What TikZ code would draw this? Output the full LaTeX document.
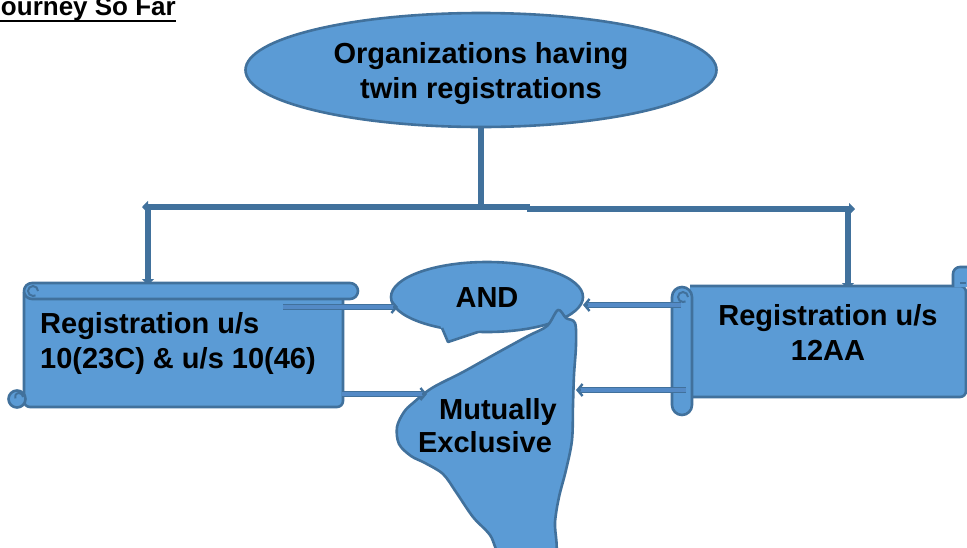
\documentclass[tikz,border=0pt]{standalone}
\usepackage{fontspec}
\setmainfont{Liberation Sans}
\usetikzlibrary{shapes.geometric,arrows.meta,calc}
\definecolor{fc}{RGB}{91,155,213}
\definecolor{dk}{RGB}{65,113,156}
\definecolor{midc}{RGB}{84,138,198}
\newcommand\blockarr[2]{%
  \draw[shaft] (#1) -- ($(#2)!3pt!(#1)$);
  \draw[barb] ($(#2)!5pt!(#1)$) -- (#2);}
\begin{document}
\begin{tikzpicture}[x=1pt,y=-1pt,
  shp/.style={fill=fc,draw=dk,line width=2.6pt,line join=round},
  lbl/.style={font=\fontsize{29}{35}\selectfont\bfseries,text=black,inner sep=0pt},
  conn/.style={draw=dk,line width=5.5pt},
  tipA/.style={-{Triangle[length=6pt,width=12pt]}},
  shaft/.style={draw=dk,line width=1.6pt,double=midc,double distance=3.2pt},
  barb/.style={draw=dk,line width=2.4pt,-{Straight Barb[length=5pt,width=12pt]}},
  curl/.style={draw=dk,line width=2pt}
]
\useasboundingbox (0,0) rectangle (967,547);
\fill[white] (0,0) rectangle (967,547);

% title
\node[anchor=base east,font=\fontsize{26}{30}\selectfont\bfseries,inner sep=0pt] (title) at (176,15) {Journey So Far};
\draw[line width=2pt] ([yshift=-6pt]title.base west) -- ([yshift=-6pt]title.base east);

% top ellipse
\node[shp,ellipse,minimum width=471pt,minimum height=114pt,inner sep=0pt] (top) at (481,70) {};
\node[lbl,anchor=base,align=center] (toptxt) at (481,98) {Organizations having\\twin registrations};

% connectors from top
\coordinate (split) at (481,210);
\coordinate (lbar) at (530,207);
\coordinate (lend) at (142,207);
\coordinate (rbar) at (527,209);
\coordinate (rend) at (855,209);
\coordinate (lcor) at (148,207);
\coordinate (ltop) at (148,285);
\coordinate (rcor) at (848,209);
\coordinate (rtop) at (848,289);
\draw[conn,tipA] (top.south) -- (split);
\draw[conn,tipA] (lbar) -- (lend);
\draw[conn,tipA] (rbar) -- (rend);
\draw[conn,tipA] (lcor) -- (ltop);
\draw[conn,tipA] (rcor) -- (rtop);

% left scroll
\draw[shp,rounded corners=6pt] (24,292) -- (24,407) -- (343,407) -- (343,292);
\draw[shp] (17,399) circle[radius=8.5pt];
\draw[curl] (23,397) arc[start angle=0,end angle=200,radius=4pt];
\draw[shp,rounded corners=8pt] (24,283) rectangle (358,299);
\draw[curl] (38,291) arc[start angle=0,end angle=300,radius=5pt];
\node[lbl,anchor=base west,align=left] (reg1) at (40,368) {Registration u/s\\10(23C) \& u/s 10(46)};

% right scroll
\draw[shp,rounded corners=6pt] (690,286) -- (966,286) -- (966,397) -- (690,397);
\draw[shp,rounded corners=7pt] (953,287) -- (953,267) -- (978,267) -- (978,287);
\draw[curl] (960,283) -- (966,283);
\draw[shp,rounded corners=10pt] (672,287) rectangle (692,415);
\draw[curl] (688,297) arc[start angle=0,end angle=300,radius=5pt];
\node[lbl,anchor=base,align=center] (reg2) at (828,360) {Registration u/s\\12AA};

% AND callout
\node[shp,ellipse,minimum width=192pt,minimum height=70pt,inner sep=0pt] (and) at (487,297) {};
\fill[fc] (440,325) -- (448,342) -- (480,330) -- (462,318) -- cycle;
\draw[dk,line width=2.6pt,line join=round] (442,328) -- (448,342) -- (478,332);
\node[lbl,anchor=base] (andt) at (487,307) {AND};

% Mutually exclusive shape
\draw[shp] plot[smooth cycle,tension=0.55] coordinates {
  (558,310) (566,318) (575,323) (576,345) (574,375) (573,405) (572,440)
  (566,470) (559,497) (555,522) (553,560) (505,560) (490,535) (473,517)
  (456,492) (443,474) (425,463) (411,456) (399,444) (397,427) (404,412)
  (413,403) (432,388) (463,372) (497,353) (528,336) (547,326)};
\node[lbl,anchor=base] (me1) at (498,419) {Mutually};
\node[lbl,anchor=base] (me2) at (485,452) {Exclusive};

% block arrows
\coordinate (a1s) at (283,307); \coordinate (a1e) at (398,307);
\coordinate (a2s) at (342,394); \coordinate (a2e) at (427,394);
\coordinate (a3s) at (681,305); \coordinate (a3e) at (583,305);
\coordinate (a4s) at (686,390); \coordinate (a4e) at (576,390);
\blockarr{a1s}{a1e}
\blockarr{a2s}{a2e}
\blockarr{a3s}{a3e}
\blockarr{a4s}{a4e}
\end{tikzpicture}
\end{document}
